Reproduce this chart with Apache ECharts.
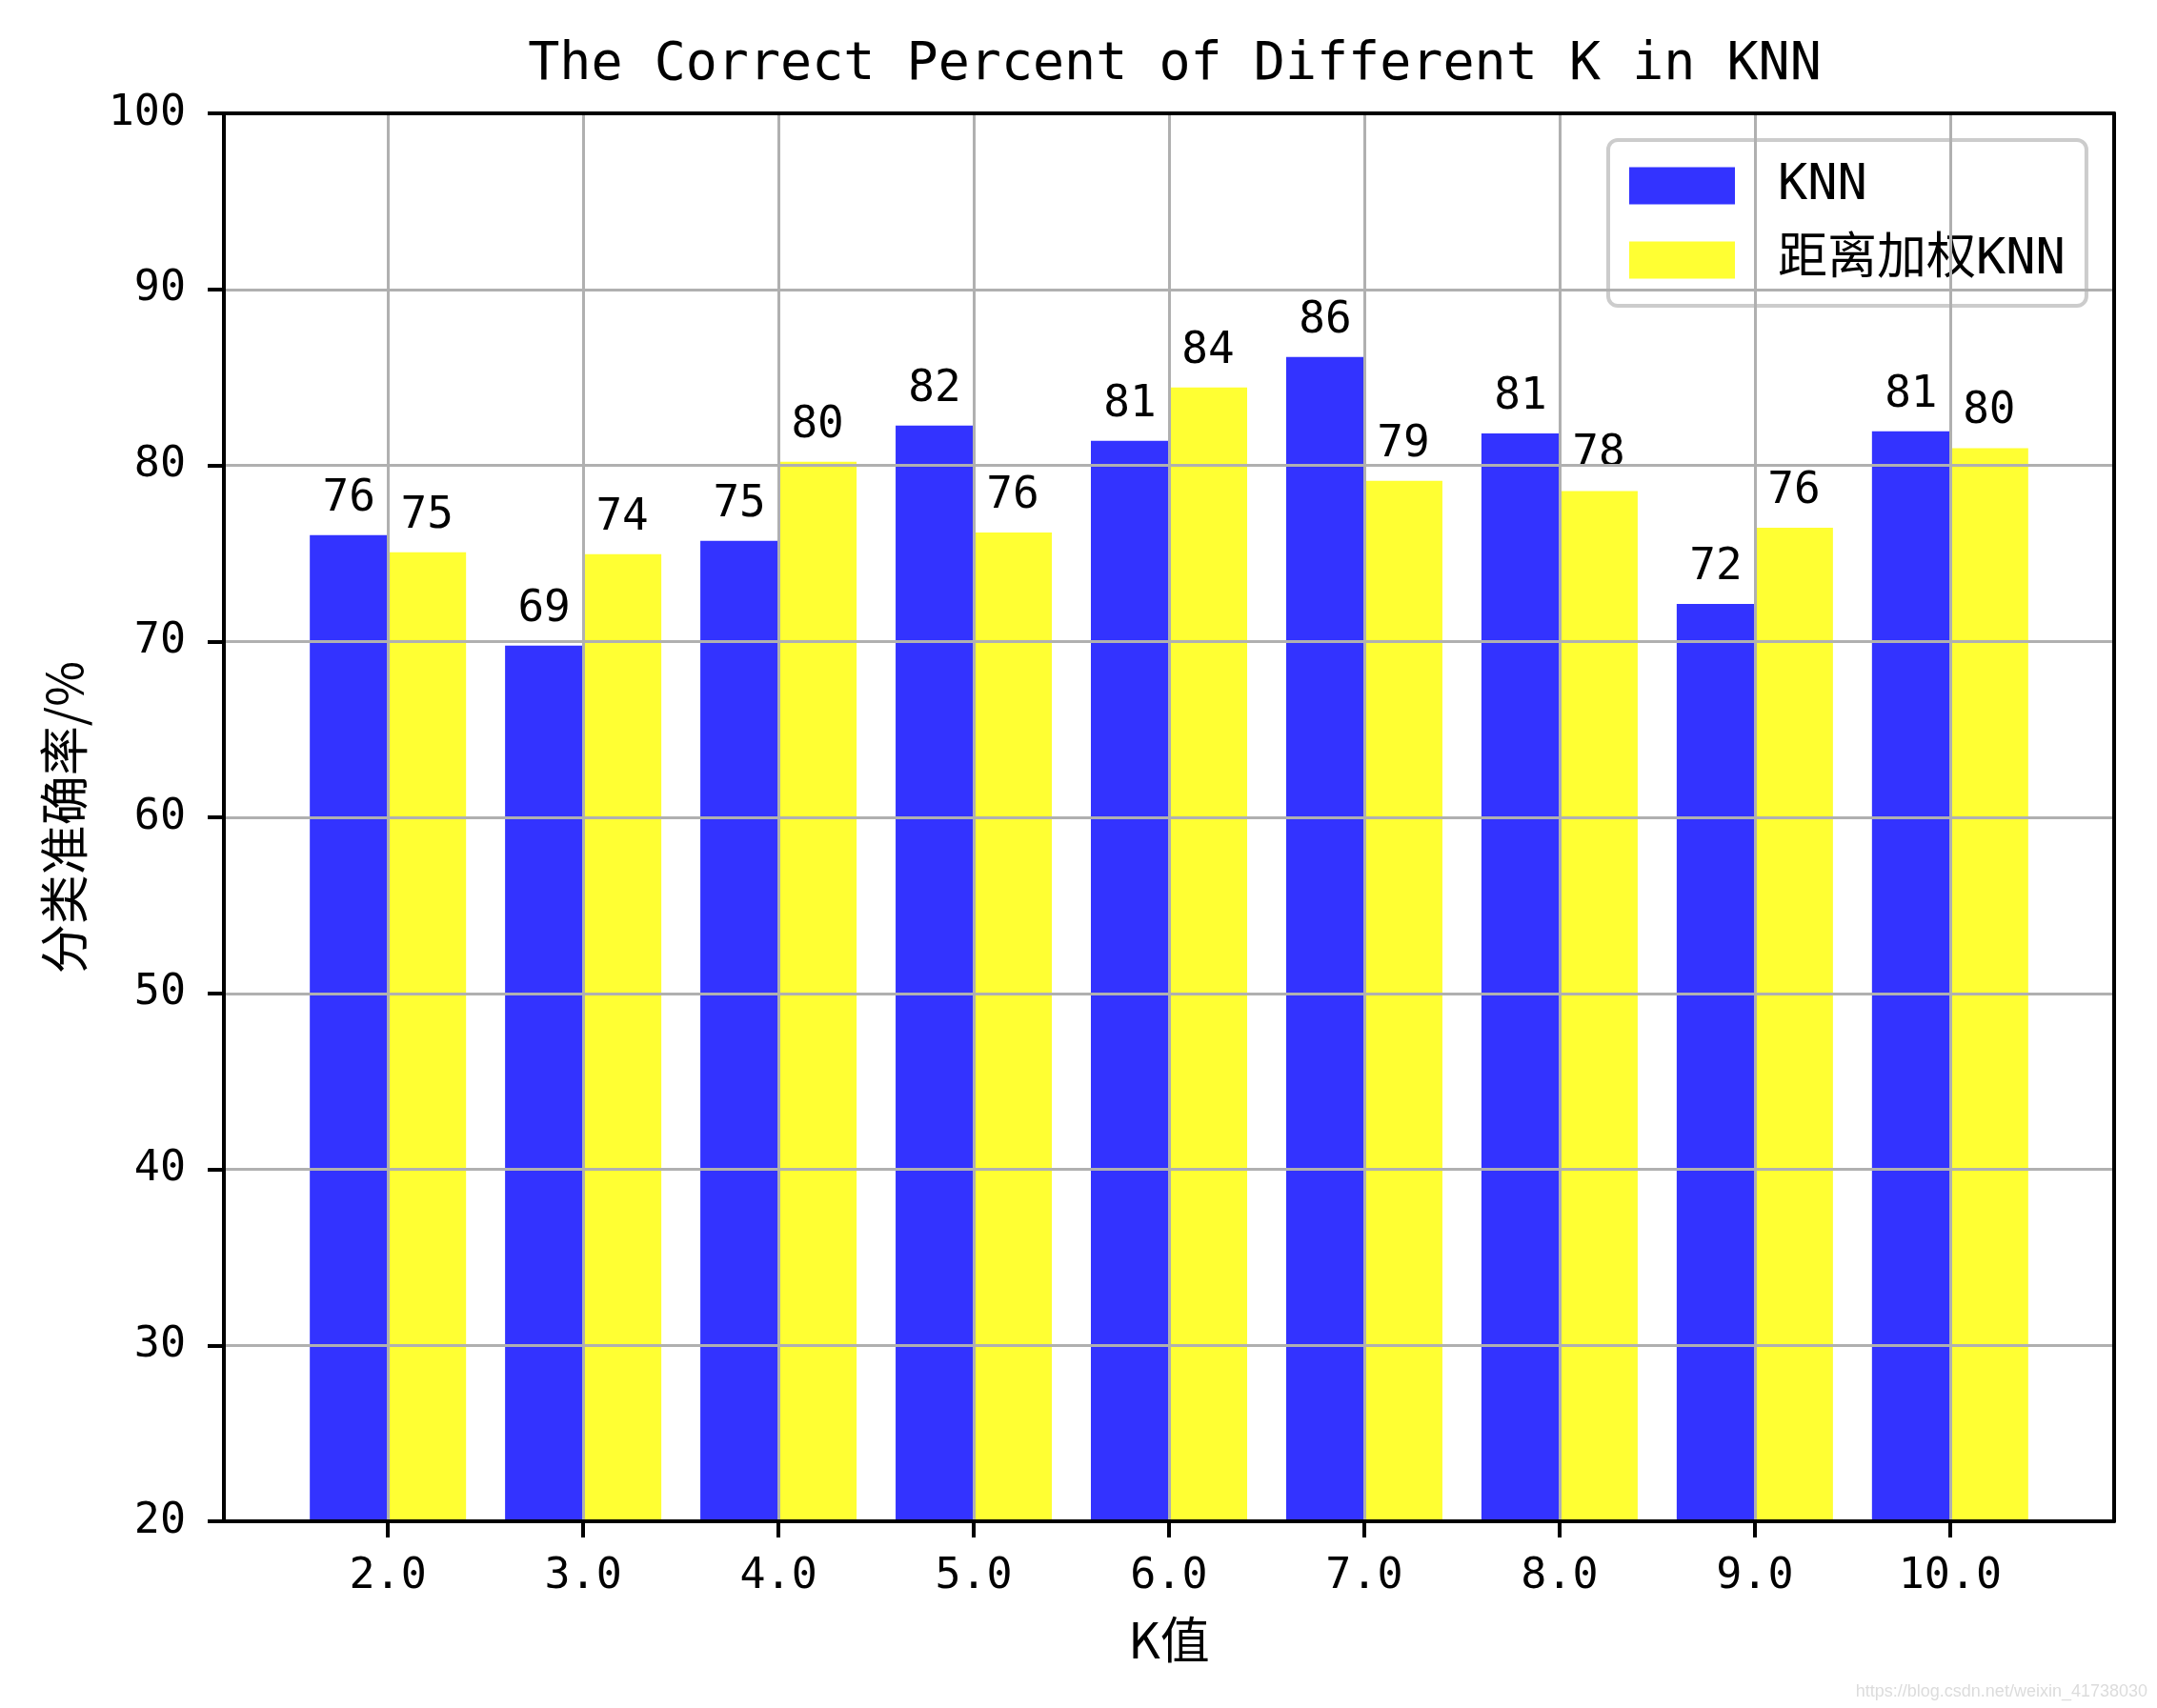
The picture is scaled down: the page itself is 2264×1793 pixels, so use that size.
<!DOCTYPE html>
<html>
<head>
<meta charset="utf-8">
<title>KNN</title>
<script src="https://cdn.jsdelivr.net/npm/echarts@6/dist/echarts.min.js"></script>
<style>
    html, body { margin: 0; padding: 0; background: #fff; }
    #chart { width: 2264px; height: 1793px; }
</style>
</head>
<body>
<div id="chart"></div>
<script>
// k values on the x axis
var kValues = [2, 3, 4, 5, 6, 7, 8, 9, 10];
// correct percent, plain knn
var knnValues = [76.03, 69.75, 75.71, 82.26, 81.39, 86.16, 81.82, 72.13, 81.93];
// correct percent, distance weighted knn
var weightedValues = [75.06, 74.95, 80.2, 76.19, 84.42, 79.12, 78.54, 76.46, 80.98];
var yTicks = [20, 30, 40, 50, 60, 70, 80, 90, 100];

var mono = "'DejaVu Sans Mono', 'Noto Sans CJK SC'";
var cjk = "'Noto Sans CJK SC'";

function pairs(xs, ys) {
    var out = [];
    for (var i = 0; i < xs.length; i++) {
        out.push([xs[i], ys[i]]);
    }
    return out;
}

function barLabel() {
    return {
        show: true,
        position: 'top',
        distance: 15,
        color: '#000',
        fontFamily: mono,
        fontSize: 46,
        formatter: function(p) { return Math.floor(p.value[1]); }
    }
}

var xMin = 1.16, xMax = 10.84;

var option = {
    animation: false,
    backgroundColor: '#fff',
    title: {
        text: 'The Correct Percent of Different K in KNN',
        left: 1228,
        textAlign: 'center',
        top: 36,
        textStyle: { fontFamily: mono, fontWeight: 'normal', fontSize: 55, color: '#000' }
    },
    legend: {
        orient: 'vertical',
        left: 1688,
        top: 147,
        padding: 22,
        itemWidth: 111,
        itemHeight: 39,
        itemGap: 26,
        backgroundColor: 'rgba(255,255,255,0.8)',
        borderColor: '#cccccc',
        borderWidth: 4,
        borderRadius: 10,
        icon: 'rect',
        textStyle: { fontFamily: mono, fontSize: 52, color: '#000', lineHeight: 39, padding: [0, 0, 0, 40] },
        data: ['KNN', '距离加权KNN']
    },
    grid: { left: 235, right: 45, top: 119, bottom: 196, containLabel: false },
    xAxis: [{
        type: 'value',
        min: xMin,
        max: xMax,
        z: 11,
        name: 'K值',
        nameLocation: 'middle',
        nameGap: 98,
        nameTextStyle: { fontFamily: cjk, fontSize: 52, color: '#000' },
        axisLine: { show: true, onZero: false, lineStyle: { color: '#000', width: 4 } },
        axisTick: { show: true, length: 17, lineStyle: { color: '#000', width: 4 }, customValues: kValues },
        axisLabel: {
            margin: 36, color: '#000', fontFamily: mono, fontSize: 45,
            customValues: kValues,
            formatter: function(v) { return v.toFixed(1); }
        },
        splitLine: { show: true, lineStyle: { color: '#b0b0b0', width: 3 }, customValues: kValues }
    }, {
        type: 'value',
        position: 'top',
        min: xMin,
        max: xMax,
        z: 12,
        axisLine: { show: true, onZero: false, lineStyle: { color: '#000', width: 4 } },
        axisTick: { show: false },
        axisLabel: { show: false },
        splitLine: { show: false }
    }],
    yAxis: [{
        type: 'value',
        min: 20,
        max: 100,
        interval: 10,
        z: 10,
        name: '分类准确率/%',
        nameLocation: 'middle',
        nameGap: 142,
        nameTextStyle: { fontFamily: cjk, fontSize: 52, color: '#000' },
        axisLine: { show: true, onZero: false, lineStyle: { color: '#000', width: 4 } },
        axisTick: { show: true, length: 17, lineStyle: { color: '#000', width: 4 } },
        axisLabel: { margin: 40, color: '#000', fontFamily: mono, fontSize: 45 },
        splitLine: { show: true, lineStyle: { color: '#b0b0b0', width: 3 } }
    }, {
        type: 'value',
        position: 'right',
        min: 20,
        max: 100,
        z: 12,
        axisLine: { show: true, onZero: false, lineStyle: { color: '#000', width: 4 } },
        axisTick: { show: false },
        axisLabel: { show: false },
        splitLine: { show: false }
    }],
    series: [{
        name: 'KNN',
        type: 'bar',
        barWidth: 82,
        barGap: '0%',
        itemStyle: { color: '#3333ff' },
        label: barLabel(),
        data: pairs(kValues, knnValues)
    }, {
        name: '距离加权KNN',
        type: 'bar',
        barWidth: 82,
        barGap: '0%',
        itemStyle: { color: '#ffff33' },
        label: barLabel(),
        data: pairs(kValues, weightedValues)
    }],
    graphic: [{
        type: 'text',
        right: 10,
        bottom: 8,
        style: {
            text: 'https://blog.csdn.net/weixin_41738030',
            fill: '#dcdcdc',
            font: "18px 'Liberation Sans Narrow', 'Liberation Sans'"
        }
    }]
};

var chart = echarts.init(document.getElementById('chart'));
chart.setOption(option);
</script>
</body>
</html>
